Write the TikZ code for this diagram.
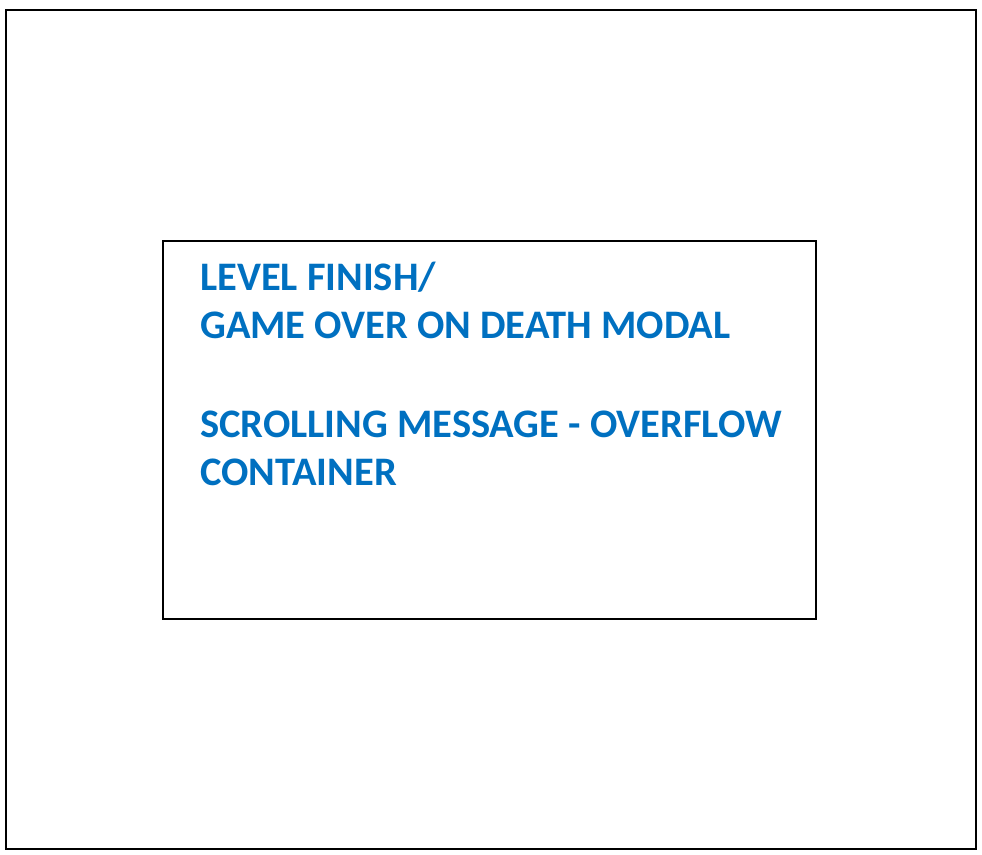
\documentclass[tikz,border=0pt]{standalone}
\usepackage{fontspec}
\setmainfont{Carlito}
\definecolor{txtblue}{HTML}{0070C0}
\begin{document}
\begin{tikzpicture}[x=1pt,y=-1pt,
  frame/.style={draw=black,line width=2.4pt},
  inner/.style={draw=black,line width=2.2pt},
  lbl/.style={anchor=base west,inner sep=0pt,text=txtblue,font=\fontsize{40.5}{48}\selectfont\bfseries}]
\useasboundingbox (0,0) rectangle (982,854);
\draw[frame] (6,10) rectangle (976,849);
\draw[inner] (163,241) rectangle (816,619);
\node[lbl] (l1) at (200,290) {LEVEL FINISH/};
\node[lbl] (l2) at (200,338) {GAME OVER ON DEATH MODAL};
\node[lbl] (l3) at (200,437) {SCROLLING MESSAGE - OVERFLOW};
\node[lbl] (l4) at (200,485) {CONTAINER};
\end{tikzpicture}
\end{document}
